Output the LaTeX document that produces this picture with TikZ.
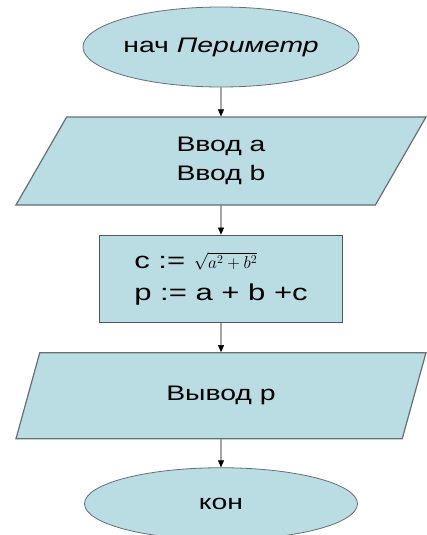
\documentclass[tikz,border=0pt]{standalone}
\usepackage{fontspec}
\setmainfont{Liberation Sans}[FakeStretch=1.35]
\usepackage{tikz}
\usetikzlibrary{shapes.geometric, arrows.meta, positioning}

\definecolor{blockfill}{RGB}{186,220,227}
\definecolor{linegray}{RGB}{100,112,115}
\definecolor{boxgray}{RGB}{80,88,90}

\begin{document}
\begin{tikzpicture}[
    terminal/.style={
        ellipse, draw=linegray, fill=blockfill, thick, inner sep=0pt,
        minimum width=273pt, minimum height=80pt,
        font=\fontsize{21}{25}\selectfont
    },
    io/.style={
        trapezium, trapezium left angle=47, trapezium right angle=133,
        trapezium stretches body, draw=linegray, fill=blockfill,
        line width=1.2pt, minimum width=410pt, minimum height=88pt,
        align=center, font=\fontsize{21}{29}\selectfont
    },
    process/.style={
        rectangle, draw=boxgray, fill=blockfill, line width=1.5pt,
        minimum width=243pt, minimum height=87pt,
        align=left, font=\fontsize{23}{32}\selectfont
    },
    arrow/.style={-{Triangle[length=7pt, width=6pt]}, semithick, black}
]
\useasboundingbox (0pt,0pt) rectangle (426pt,-535pt);
\node[terminal] (start) at (221pt,-47pt) {нач \textit{Периметр}};
\node[io, below=29pt of start] (input) {Ввод a\\Ввод b};
\node[process, below=29pt of input] (calc)
    {c := {\fontsize{17}{17}\selectfont$\sqrt{a^{2}+b^{2}}$}\\
     p := a + b +c};
\node[io, below=29pt of calc, minimum height=86pt] (output) {Вывод p};
\node[terminal, below=28pt of output, minimum height=72pt] (stop) {кон};
\draw[arrow] (start) -- (input);
\draw[arrow] (input) -- (calc);
\draw[arrow] (calc) -- (output);
\draw[arrow] (output) -- (stop);
\end{tikzpicture}
\end{document}
